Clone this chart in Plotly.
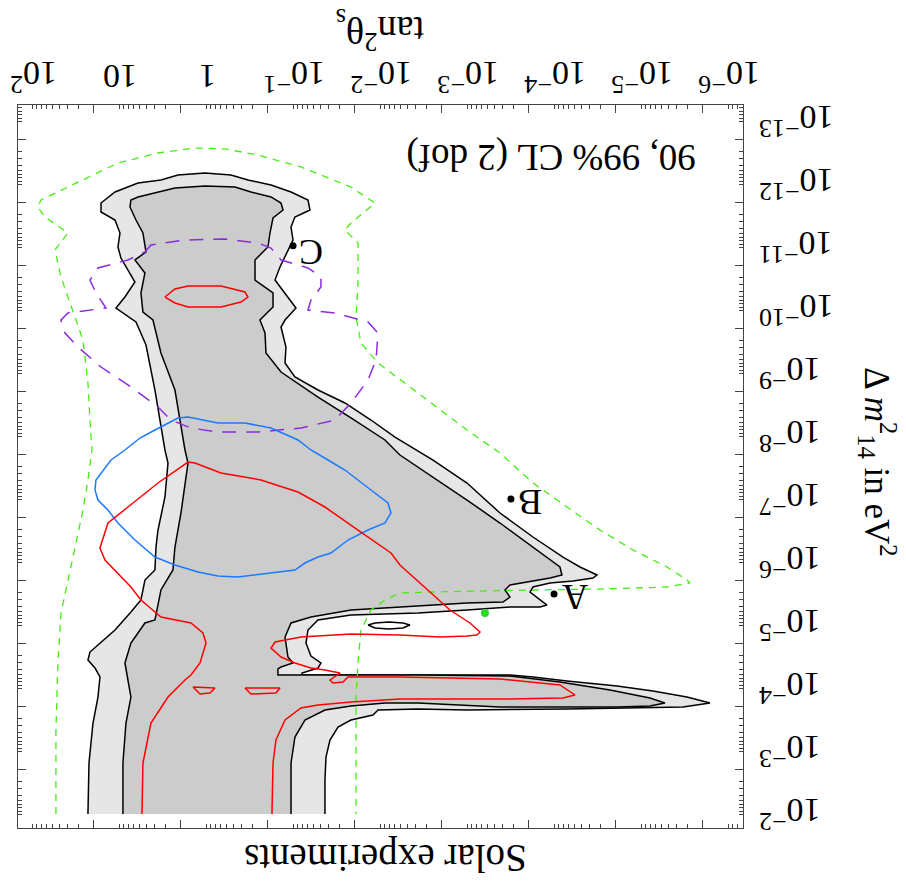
import plotly.graph_objects as go

# ---------------- data (log10 tan^2(theta_s), log10 dm^2_14 [eV^2]) ----------------
cl99_lt = [1.368, 1.356, 1.310, 1.253, 1.230, 1.287, 1.368, 1.345, 1.253, 1.057, 0.874, 0.759, 0.713, 0.598,
           0.586, 0.563, 0.483, 0.448, 0.483, 0.598, 0.701, 0.816, 1.046, 0.943, 0.828, 0.989, 1.023, 1.000,
           1.057, 1.218, 1.218, 1.057, 0.793, 0.529, 0.333, 0.023, -0.276, -0.471, -0.736, -0.966, -1.161,
           -1.184, -1.011, -0.966, -0.989, -0.897, -0.839, -0.782, -0.897, -1.023, -0.897, -0.851, -0.908,
           -0.897, -1.011, -1.276, -1.586, -1.885, -2.161, -2.598, -2.989, -3.368, -3.747, -4.092, -4.287,
           -4.483, -4.437, -4.207, -3.943, -3.747, -3.713, -3.862, -3.908, -3.828, -3.483, -2.989, -2.425,
           -1.655, -1.276, -1.161, -1.138, -1.195, -1.310, -1.276, -1.092, -1.092, -2.448, -3.483, -3.747,
           -4.138, -4.713, -5.126, -5.517, -5.782, -5.471, -4.897, -4.138, -2.989, -2.425, -1.966, -1.908,
           -1.655, -1.506, -1.414, -1.368, -1.356, -1.356]
cl99_ldm = [-2.0, -2.810, -3.444, -3.857, -4.175, -4.317, -4.444, -4.571, -4.683, -4.921, -5.206, -5.397,
            -5.714, -5.873, -6.238, -6.508, -7.032, -7.571, -7.778, -8.730, -9.444, -9.810, -10.032, -10.206,
            -10.444, -10.825, -11.000, -11.222, -11.429, -11.556, -11.698, -11.873, -12.016, -12.063, -12.143,
            -12.175, -12.143, -12.063, -11.984, -11.873, -11.746, -11.587, -11.476, -11.317, -11.111, -10.841,
            -10.683, -10.476, -10.270, -10.032, -9.841, -9.730, -9.413, -9.159, -8.937, -8.730, -8.524, -8.254,
            -7.984, -7.619, -7.254, -6.778, -6.397, -6.079, -5.921, -5.794, -5.746, -5.698, -5.667, -5.603,
            -5.524, -5.365, -5.317, -5.286, -5.286, -5.238, -5.190, -5.159, -5.079, -4.921, -4.714, -4.508,
            -4.397, -4.317, -4.238, -4.206, -4.206, -4.206, -4.175, -4.111, -4.032, -3.952, -3.857, -3.762,
            -3.698, -3.683, -3.667, -3.651, -3.667, -3.651, -3.571, -3.492, -3.381, -3.175, -2.905, -2.540, -2.0]

cl90_lt = [0.966, 0.966, 0.931, 0.874, 0.943, 0.874, 0.713, 0.598, 0.529, 0.391, 0.368, 0.299, 0.218, 0.253,
           0.368, 0.529, 0.621, 0.736, 0.759, 0.713, 0.828, 0.701, 0.736, 0.816, 0.885, 0.874, 0.793, 0.563,
           0.368, 0.023, -0.322, -0.506, -0.736, -0.851, -0.874, -0.759, -0.724, -0.701, -0.552, -0.552,
           -0.759, -0.759, -0.609, -0.667, -0.678, -0.851, -1.069, -1.276, -1.655, -2.046, -2.218, -2.598,
           -2.989, -3.368, -3.747, -4.057, -4.080, -3.943, -3.483, -3.425, -3.483, -3.402, -2.989, -2.425,
           -1.655, -1.195, -0.966, -0.897, -0.931, -0.989, -0.851, -0.816, -0.816, -2.448, -3.483, -4.057,
           -4.632, -5.092, -5.264, -5.092, -4.713, -4.057, -3.368, -2.425, -2.046, -1.655, -1.356, -1.126,
           -1.011, -0.966, -0.966]
cl90_ldm = [-2.0, -2.810, -3.444, -3.857, -4.397, -4.714, -5.032, -5.079, -5.556, -5.873, -6.238, -6.778,
            -7.571, -7.778, -8.730, -9.317, -9.841, -9.968, -10.270, -10.587, -10.794, -10.921, -11.222,
            -11.429, -11.635, -11.746, -11.794, -11.873, -11.937, -11.968, -11.952, -11.873, -11.794, -11.698,
            -11.587, -11.460, -11.222, -11.000, -10.794, -10.476, -10.270, -10.048, -9.841, -9.635, -9.317,
            -9.016, -8.810, -8.619, -8.286, -7.937, -7.698, -7.349, -6.984, -6.619, -6.238, -5.921, -5.794,
            -5.746, -5.635, -5.556, -5.444, -5.365, -5.349, -5.302, -5.238, -5.127, -5.032, -4.810, -4.492,
            -4.397, -4.333, -4.302, -4.206, -4.206, -4.190, -4.095, -3.968, -3.841, -3.762, -3.714, -3.698,
            -3.698, -3.698, -3.762, -3.762, -3.714, -3.651, -3.492, -3.222, -2.810, -2.0]

island_lt = [-1.851, -1.931, -2.092, -2.253, -2.333, -2.253, -2.092, -1.931, -1.851]
island_ldm = [-5.0, -5.032, -5.048, -5.032, -5.0, -4.952, -4.937, -4.952, -5.0]

red_a_lt = [0.483, 0.368, 0.218, -0.161, -0.437, -0.471, -0.391, -0.161, 0.218, 0.368, 0.483]
red_a_ldm = [-10.206, -10.333, -10.381, -10.381, -10.286, -10.206, -10.127, -10.048, -10.048, -10.111, -10.206]

red_b_lt = [0.747, 0.736, 0.644, 0.448, 0.253, 0.184, 0.080, 0.011, 0.046, 0.184, 0.529, 0.759, 0.874, 1.023,
            1.172, 1.230, 1.138, 0.908, 0.563, 0.218, 0.138, -0.161, -0.621, -1.046, -1.356, -1.736, -2.115,
            -2.218, -2.448, -2.793, -3.023, -3.138, -3.103, -2.989, -2.678, -2.218, -1.655, -1.080, -0.782,
            -0.736, -0.851, -1.011, -1.195, -1.356, -1.529, -1.414, -1.448, -1.563, -1.621, -2.218, -3.368,
            -3.943, -4.057, -4.230, -4.092, -3.368, -2.218, -1.655, -1.276, -1.080, -0.897, -0.793, -0.759,
            -0.747]
red_b_ldm = [-2.0, -2.810, -3.444, -3.857, -4.127, -4.206, -4.397, -4.714, -4.873, -5.032, -5.127, -5.397,
             -5.603, -5.825, -6.032, -6.222, -6.619, -6.873, -7.254, -7.587, -7.571, -7.413, -7.302, -7.111,
             -6.873, -6.508, -6.143, -5.952, -5.667, -5.238, -5.032, -4.889, -4.841, -4.825, -4.810, -4.841,
             -4.857, -4.810, -4.730, -4.635, -4.492, -4.397, -4.317, -4.286, -4.238, -4.127, -4.079, -4.095,
             -4.175, -4.175, -4.143, -4.063, -4.048, -3.889, -3.841, -3.825, -3.825, -3.778, -3.730, -3.683,
             -3.492, -3.175, -2.810, -2.0]

red_c_lt = [0.161, -0.092, -0.034, 0.080, 0.161]
red_c_ldm = [-4.016, -4.0, -3.921, -3.905, -4.016]
red_d_lt = [-0.437, -0.839, -0.793, -0.506, -0.437]
red_d_ldm = [-4.0, -4.0, -3.921, -3.905, -4.0]

blue_lt = [0.598, 0.770, 0.943, 1.103, 1.276, 1.287, 1.253, 1.138, 1.023, 0.828, 0.598, 0.368, 0.103, -0.126,
           -0.356, -0.667, -1.011, -1.126, -1.276, -1.425, -1.621, -1.851, -2.046, -2.115, -2.080, -1.885,
           -1.736, -1.586, -1.391, -1.195, -1.046, -0.736, -0.437, -0.126, 0.218, 0.333, 0.598]
blue_ldm = [-8.095, -7.968, -7.778, -7.619, -7.302, -7.143, -6.984, -6.825, -6.619, -6.349, -6.079, -5.952,
            -5.841, -5.778, -5.762, -5.810, -5.873, -5.984, -6.079, -6.143, -6.349, -6.508, -6.619, -6.778,
            -6.937, -7.143, -7.302, -7.460, -7.619, -7.778, -7.937, -8.127, -8.206, -8.206, -8.302, -8.286,
            -8.095]

purple_lt = [0.713, 0.644, 0.253, -0.207, -0.586, -0.736, -0.851, -1.161, -1.310, -1.310, -1.195, -1.161,
             -1.471, -1.851, -1.966, -1.943, -1.851, -1.655, -1.471, -1.080, -0.586, -0.126, 0.184, 0.414,
             0.563, 0.874, 1.218, 1.483, 1.632, 1.678, 1.598, 1.161, 1.276, 1.345, 1.253, 0.908, 0.713]
purple_ldm = [-10.921, -11.032, -11.111, -11.127, -11.063, -10.984, -10.794, -10.667, -10.524, -10.365,
              -10.159, -10.0, -9.952, -9.810, -9.635, -9.206, -8.889, -8.524, -8.254, -8.127, -8.063, -8.063,
              -8.127, -8.254, -8.460, -8.778, -9.095, -9.413, -9.635, -9.841, -9.952, -10.032, -10.270,
              -10.476, -10.667, -10.794, -10.921]

green_lt = [1.736, 1.736, 1.713, 1.678, 1.621, 1.517, 1.425, 1.368, 1.322, 1.345, 1.368, 1.425, 1.517, 1.678,
            1.747, 1.598, 1.862, 1.943, 1.908, 1.483, 1.023, 0.563, 0.138, -0.207, -0.586, -1.080, -1.655,
            -1.931, -1.655, -1.586, -1.736, -1.736, -1.713, -1.770, -1.966, -2.425, -2.989, -3.368, -3.747,
            -4.138, -4.517, -4.897, -5.287, -5.517, -5.552, -5.287, -4.517, -3.747, -2.989, -2.598, -2.218,
            -2.046, -1.885, -1.770, -1.736, -1.713, -1.713, -1.713]
green_ldm = [-2.0, -3.333, -4.397, -5.190, -5.556, -6.238, -6.825, -7.302, -7.778, -8.254, -8.841, -9.524,
             -9.889, -10.524, -10.952, -11.222, -11.476, -11.635, -11.746, -12.032, -12.333, -12.492, -12.571,
             -12.556, -12.460, -12.270, -11.952, -11.698, -11.381, -11.270, -11.063, -10.429, -9.889, -9.476,
             -9.159, -8.683, -8.095, -7.730, -7.254, -6.873, -6.508, -6.190, -5.921, -5.714, -5.667, -5.603,
             -5.571, -5.556, -5.540, -5.524, -5.508, -5.397, -5.238, -4.921, -4.397, -3.857, -2.810, -2.0]

bench_names = ["A", "B", "C"]
bench_lt = [-3.989, -3.494, -0.989]
bench_ldm = [-5.492, -7.0, -11.02]
bench_label_lt = [-4.23, -3.713, -1.195]
bench_label_ldm = [-5.444, -6.952, -10.921]
green_pt_lt = [-3.195]
green_pt_ldm = [-5.190]

SUP = "<sup><span style=\"font-size:26px\">%s</span></sup>"
x_tick_exp = [-6, -5, -4, -3, -2, -1, 0, 1, 2]
x_tick_text = ["10" + SUP % "\u22126", "10" + SUP % "\u22125", "10" + SUP % "\u22124", "10" + SUP % "\u22123",
               "10" + SUP % "\u22122", "10" + SUP % "\u22121", "1", "10", "10" + SUP % "2"]
y_tick_exp = list(range(-13, -1))
y_tick_text = ["10" + SUP % ("\u2212%d" % (-e)) for e in y_tick_exp]

x_range_log = [2.172, -6.161]
y_range_log = [-1.778, -13.254]


def p10(a):
    return [10 ** v for v in a]


SERIF = "Liberation Serif"
fig = go.Figure()

fig.add_trace(go.Scatter(x=p10(cl99_lt), y=p10(cl99_ldm), mode="lines", fill="toself",
                         fillcolor="#e6e6e6", line=dict(color="black", width=1.5), hoverinfo="skip"))
fig.add_trace(go.Scatter(x=p10(cl90_lt), y=p10(cl90_ldm), mode="lines", fill="toself",
                         fillcolor="#cccccc", line=dict(color="black", width=1.5), hoverinfo="skip"))
fig.add_trace(go.Scatter(x=p10(island_lt), y=p10(island_ldm), mode="lines",
                         line=dict(color="black", width=1.5)))
fig.add_trace(go.Scatter(x=p10(green_lt), y=p10(green_ldm), mode="lines",
                         line=dict(color="#44ee11", width=1.3, dash="7px,6px")))
fig.add_trace(go.Scatter(x=p10(purple_lt), y=p10(purple_ldm), mode="lines",
                         line=dict(color="#8a2be2", width=1.5, dash="14px,10px")))
fig.add_trace(go.Scatter(x=p10(blue_lt), y=p10(blue_ldm), mode="lines",
                         line=dict(color="#1a7aff", width=1.5)))
for lt, ldm in [(red_a_lt, red_a_ldm), (red_b_lt, red_b_ldm), (red_c_lt, red_c_ldm), (red_d_lt, red_d_ldm)]:
    fig.add_trace(go.Scatter(x=p10(lt), y=p10(ldm), mode="lines",
                             line=dict(color="#ff0000", width=1.5)))
fig.add_trace(go.Scatter(x=p10(bench_lt), y=p10(bench_ldm), mode="markers",
                         marker=dict(color="black", size=7)))
fig.add_trace(go.Scatter(x=p10(green_pt_lt), y=p10(green_pt_ldm), mode="markers",
                         marker=dict(color="#22dd22", size=8)))
# helper trace for the overlay tick axes (2 x 10^n ticks)
fig.add_trace(go.Scatter(x=[1.0], y=[1e-6], xaxis="x2", yaxis="y2", mode="markers",
                         marker=dict(opacity=0), hoverinfo="skip"))

frame = "#444444"
fig.update_layout(
    width=906, height=886,
    margin=dict(l=18, r=163, t=105, b=58),
    plot_bgcolor="white", paper_bgcolor="white",
    showlegend=False,
    font=dict(family=SERIF, color="black"),
    xaxis=dict(type="log", range=x_range_log, side="top",
               tickvals=[10 ** e for e in x_tick_exp], showticklabels=False,
               ticks="inside", ticklen=4, tickcolor=frame,
               minor=dict(ticks="inside", ticklen=4, dtick="D1", tickcolor=frame, showgrid=False),
               showline=True, linecolor=frame, linewidth=1, mirror="ticks",
               showgrid=False, zeroline=False),
    yaxis=dict(type="log", range=y_range_log, side="right",
               tickvals=[10 ** e for e in y_tick_exp], showticklabels=False,
               ticks="inside", ticklen=4, tickcolor=frame,
               minor=dict(ticks="inside", ticklen=4, dtick="D1", tickcolor=frame, showgrid=False),
               showline=True, linecolor=frame, linewidth=1, mirror="ticks",
               showgrid=False, zeroline=False),
    xaxis2=dict(type="log", overlaying="x", matches="x", side="top",
                tickvals=[2 * 10 ** e for e in range(-7, 3)], ticks="inside", ticklen=8, tickcolor=frame,
                showticklabels=False, mirror="ticks", showline=False, showgrid=False, zeroline=False),
    yaxis2=dict(type="log", overlaying="y", matches="y", side="right",
                tickvals=[2 * 10 ** e for e in range(-14, -1)], ticks="inside", ticklen=8, tickcolor=frame,
                showticklabels=False, mirror="ticks", showline=False, showgrid=False, zeroline=False),
)

# tick labels (upside down, as in the reference)
for e, t in zip(x_tick_exp, x_tick_text):
    fig.add_annotation(text=t, x=e, y=1.0387, xref="x", yref="paper", showarrow=False, textangle=180,
                       xanchor="center", yanchor="middle", font=dict(family=SERIF, size=34, color="black"))
for e, t in zip(y_tick_exp, y_tick_text):
    fig.add_annotation(text=t, x=1.019, y=e, xref="paper", yref="y", showarrow=False, textangle=180,
                       xanchor="left", yanchor="middle", font=dict(family=SERIF, size=34, color="black"))

annots = [
    dict(text="Solar experiments", x=0.506, y=-0.0415, size=39),
    dict(text="tan<sup>2</sup>\u03b8<sub>s</sub>", x=0.50, y=1.104, size=38),
    dict(text="90, 99% CL (2 dof)", x=0.735, y=0.929, size=37),
]
for a in annots:
    fig.add_annotation(text=a["text"], x=a["x"], y=a["y"], xref="paper", yref="paper",
                       xanchor="center", yanchor="middle",
                       showarrow=False, textangle=180, font=dict(family=SERIF, size=a["size"], color="black"))
fig.add_annotation(text="\u0394 <i>m</i><sup>2</sup><sub>14</sub> in eV<sup>2</sup>", x=1.186, y=0.506,
                   xref="paper", yref="paper", showarrow=False, textangle=90,
                   xanchor="center", yanchor="middle",
                   font=dict(family=SERIF, size=35, color="black"))
for name, lx, ly in zip(bench_names, bench_label_lt, bench_label_ldm):
    fig.add_annotation(text=name, x=lx, y=ly, xref="x", yref="y", showarrow=False, textangle=180,
                       xanchor="center", yanchor="middle",
                       font=dict(family=SERIF, size=36, color="black"))

fig.write_html("out.html")
